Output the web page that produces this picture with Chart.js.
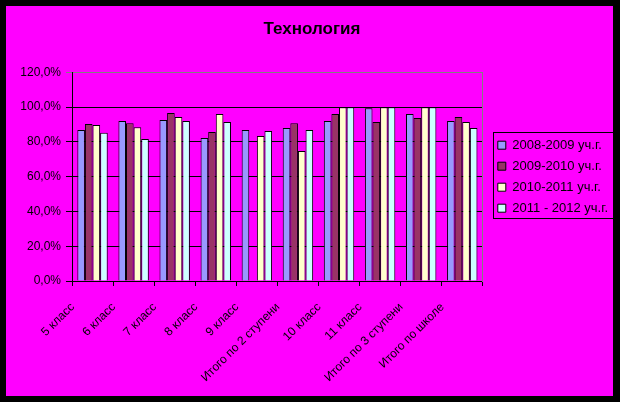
<!DOCTYPE html>
<html>
<head>
<meta charset="utf-8">
<script src="https://cdn.jsdelivr.net/npm/chart.js@4"></script>
<style>
  html, body { margin: 0; padding: 0; background: #000; }
  #wrap { width: 620px; height: 402px; }
</style>
</head>
<body>
<div id="wrap"><canvas id="techCanvas" width="620" height="402"></canvas></div>
<script>
var categories = ['5 класс', '6 класс', '7 класс', '8 класс', '9 класс',
    'Итого по 2 ступени', '10 класс', '11 класс', 'Итого по 3 ступени', 'Итого по школе'];
var seriesNames = ['2008-2009 уч.г.', '2009-2010 уч.г.', '2010-2011 уч.г.', '2011 - 2012 уч.г.'];
var year0809 = [86.8, 92.0, 92.6, 82.3, 86.8, 88.0, 92.0, 99.4, 96.0, 92.0];
var year0910 = [90.3, 90.8, 96.6, 85.7, null, 90.8, 96.0, 91.4, 93.7, 94.3];
var year1011 = [89.7, 88.5, 94.3, 96.0, 83.4, 74.8, 100, 100, 100, 91.4];
var year1112 = [85.3, 81.7, 92.0, 91.4, 86.3, 86.8, 100, 100, 100, 88.0];
var yTicks = [0, 20, 40, 60, 80, 100, 120];

var FONT = 'Arial, "Liberation Sans", sans-serif';
var fills = ['#9999FF', '#993366', '#FFFFCC', '#CCFFFF'];

// black frame with magenta panel behind everything
var backdrop = {
    id: 'backdrop',
    beforeDraw: function (chart) {
        var c = chart.ctx;
        c.save();
        c.fillStyle = '#000';
        c.fillRect(0, 0, chart.width, chart.height);
        c.fillStyle = '#FF00FF';
        c.fillRect(6, 6, 607, 390);
        c.restore();
    }
};

// frame around the legend items
var legendFrame = {
    id: 'legendFrame',
    afterDraw: function (chart) {
        var lg = chart.legend;
        var boxes = lg && lg.legendHitBoxes;
        if (!boxes || !boxes.length) return;
        var first = boxes[0], last = boxes[boxes.length - 1];
        var top = first.top + first.height / 2 - 13;
        var bottom = last.top + last.height / 2 + 10;
        var left = first.left - 5;
        var c = chart.ctx;
        c.save();
        c.strokeStyle = '#000';
        c.lineWidth = 1;
        c.strokeRect(Math.round(left) + 0.5, Math.round(top) + 0.5, 120, Math.round(bottom - top));
        c.restore();
    }
};

var data = [year0809, year0910, year1011, year1112];

new Chart(document.getElementById('techCanvas').getContext('2d'), {
    type: 'bar',
    data: {
        labels: categories,
        datasets: data.map(function (vals, i) {
            return {
                label: seriesNames[i],
                data: vals,
                backgroundColor: fills[i],
                borderColor: '#000',
                borderWidth: 1,
                categoryPercentage: 0.74,
                barPercentage: 1.0
            };
        })
    },
    options: {
        responsive: false,
        animation: false,
        devicePixelRatio: 1,
        layout: { padding: { left: 6, right: 2, top: 6, bottom: 6 } },
        plugins: {
            title: {
                display: true,
                text: 'Технология',
                color: '#000',
                font: { family: FONT, size: 17, weight: 'bold' },
                padding: { top: 13, bottom: 33 }
            },
            legend: {
                position: 'right',
                fullSize: false,
                maxWidth: 140,
                labels: {
                    color: '#000',
                    font: { family: FONT, size: 13 },
                    boxWidth: 8,
                    boxHeight: 8,
                    padding: 8,
                    useBorderRadius: false
                }
            },
            tooltip: { enabled: false }
        },
        scales: {
            x: {
                grid: {
                    drawOnChartArea: false,
                    drawTicks: true,
                    tickLength: 5,
                    color: '#000'
                },
                border: { color: '#000', width: 1 },
                ticks: {
                    color: '#000',
                    font: { family: FONT, size: 12 },
                    maxRotation: 45,
                    minRotation: 45,
                    autoSkip: false,
                    labelOffset: -20,
                    padding: 14
                },
                afterFit: function (scale) { scale.height = 115; }
            },
            y: {
                min: 0,
                max: 120,
                afterBuildTicks: function (scale) {
                    scale.ticks = yTicks.map(function (v) { return { value: v }; });
                },
                grid: {
                    color: function (ctx) {
                        return ctx.tick && ctx.tick.value === 120 ? '#808080' : '#000';
                    },
                    tickLength: 6,
                    lineWidth: 1
                },
                border: { color: '#000', width: 1 },
                ticks: {
                    color: '#000',
                    font: { family: FONT, size: 12 },
                    padding: 5,
                    callback: function (v) { return v.toFixed(1).replace('.', ',') + '%'; }
                },
                afterFit: function (scale) { scale.width = 66; }
            },
            edge: {
                position: 'right',
                min: 0,
                max: 120,
                grid: { display: false },
                ticks: { display: false },
                border: { color: '#808080', width: 1 },
                afterFit: function (scale) { scale.width = 7; }
            }
        }
    },
    plugins: [backdrop, legendFrame]
});
</script>
</body>
</html>
